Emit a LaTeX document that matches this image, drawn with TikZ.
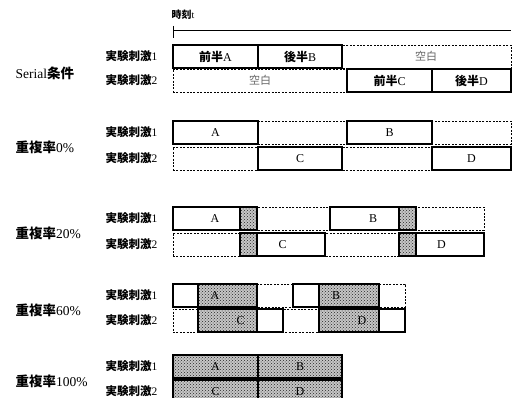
\documentclass[tikz,border=0pt]{standalone}
\usepackage{fontspec}
\setmainfont{Liberation Serif}
\newfontfamily\jp{Noto Sans CJK JP}
\usetikzlibrary{patterns}

\newcommand\jpb{\jp\bfseries}
\newcommand\stimone{{\jpb 実験刺激}1}
\newcommand\stimtwo{{\jpb 実験刺激}2}

\begin{document}
\begin{tikzpicture}[
x=1pt, y=-1pt,
track/.style={draw, dash pattern=on 2pt off 1.4pt, line width=0.7pt, anchor=north west, minimum width=#1, minimum height=23pt, inner sep=0pt, outer sep=0pt},
stim/.style={draw, line width=1.2pt, anchor=north west, minimum width=#1, minimum height=23pt, inner sep=0pt, outer sep=0pt, font=\fontsize{12}{14}\selectfont},
ovl/.style={draw, line width=1.2pt, preaction={fill=gray!45}, pattern=crosshatch dots, pattern color=black!85, anchor=north west, minimum width=#1, minimum height=23pt, inner sep=0pt, outer sep=0pt, font=\fontsize{12}{14}\selectfont},
cond/.style={anchor=west, font=\fontsize{13.5}{16}\selectfont},
sub/.style={anchor=east, font=\fontsize{11.5}{13}\selectfont},
blank/.style={text=black!60, font=\jp\fontsize{11}{13}\selectfont}
]
\useasboundingbox (0,0) rectangle (529,398);

% time axis
\node[anchor=west, font=\jpb\fontsize{10}{12}\selectfont] (tl) at (168,15) {時刻{\normalfont t}};
\coordinate (t0) at (173,30);
\coordinate (t1) at (511,30);
\coordinate (tk0) at (173,26);
\coordinate (tk1) at (173,38);
\draw[line width=0.6pt] (t0) -- (t1);
\draw[line width=0.6pt] (tk0) -- (tk1);

% Serial
\node[cond] (cs) at (12,73) {Serial{\jpb 条件}};
\node[sub] (cs1) at (161,56.5) {\stimone};
\node[sub] (cs2) at (161,80.5) {\stimtwo};
\node[track=338pt] (s1) at (173,45) {};
\node[blank] (sb1) at (426,56.5) {空白};
\node[stim=85pt] (sA) at (173,45) {{\jpb 前半}A};
\node[stim=84pt] (sB) at (258,45) {{\jpb 後半}B};
\node[track=338pt] (s2) at (173,69) {};
\node[blank] (sb2) at (260,80.5) {空白};
\node[stim=85pt] (sC) at (347,69) {{\jpb 前半}C};
\node[stim=79pt] (sD) at (432,69) {{\jpb 後半}D};

% 0%
\node[cond] (c0) at (12,147) {{\jpb 重複率}0\%};
\node[sub] (c01) at (161,132.5) {\stimone};
\node[sub] (c02) at (161,158.5) {\stimtwo};
\node[track=338pt] (z1) at (173,121) {};
\node[stim=85pt] (zA) at (173,121) {A};
\node[stim=85pt] (zB) at (347,121) {B};
\node[track=338pt] (z2) at (173,147) {};
\node[stim=84pt] (zC) at (258,147) {C};
\node[stim=79pt] (zD) at (432,147) {D};

% 20%
\node[cond] (c20) at (12,233) {{\jpb 重複率}20\%};
\node[sub] (c201) at (161,218.5) {\stimone};
\node[sub] (c202) at (161,244.5) {\stimtwo};
\node[track=311pt] (w1) at (173,207) {};
\node[ovl=17pt] (wa) at (240,207) {};
\node[ovl=17pt] (wb) at (399,207) {};
\node[stim=84pt] (wA) at (173,207) {A};
\node[stim=86pt] (wB) at (330,207) {B};
\node[track=311pt] (w2) at (173,233) {};
\node[ovl=17pt] (wc) at (240,233) {};
\node[ovl=17pt] (wd) at (399,233) {};
\node[stim=85pt] (wC) at (240,233) {C};
\node[stim=85pt] (wD) at (399,233) {D};

% 60%
\node[cond] (c60) at (12,310) {{\jpb 重複率}60\%};
\node[sub] (c601) at (161,295.5) {\stimone};
\node[sub] (c602) at (161,320.5) {\stimtwo};
\node[track=232pt] (m1) at (173,284) {};
\node[ovl=59pt] (ma) at (198,284) {};
\node[ovl=60pt] (mb) at (319,284) {};
\node[stim=84pt] (mA) at (173,284) {A};
\node[stim=86pt] (mB) at (293,284) {B};
\node[track=232pt] (m2) at (173,309) {};
\node[ovl=59pt] (mc) at (198,309) {};
\node[ovl=60pt] (md) at (319,309) {};
\node[stim=85pt] (mC) at (198,309) {C};
\node[stim=86pt] (mD) at (319,309) {D};

% 100%
\node[cond] (c100) at (12,381) {{\jpb 重複率}100\%};
\node[sub] (c1001) at (161,366.5) {\stimone};
\node[sub] (c1002) at (161,391) {\stimtwo};
\node[ovl=85pt] (hA) at (173,355) {A};
\node[ovl=84pt] (hB) at (258,355) {B};
\node[ovl=85pt] (hC) at (173,380) {C};
\node[ovl=84pt] (hD) at (258,380) {D};
\end{tikzpicture}
\end{document}
